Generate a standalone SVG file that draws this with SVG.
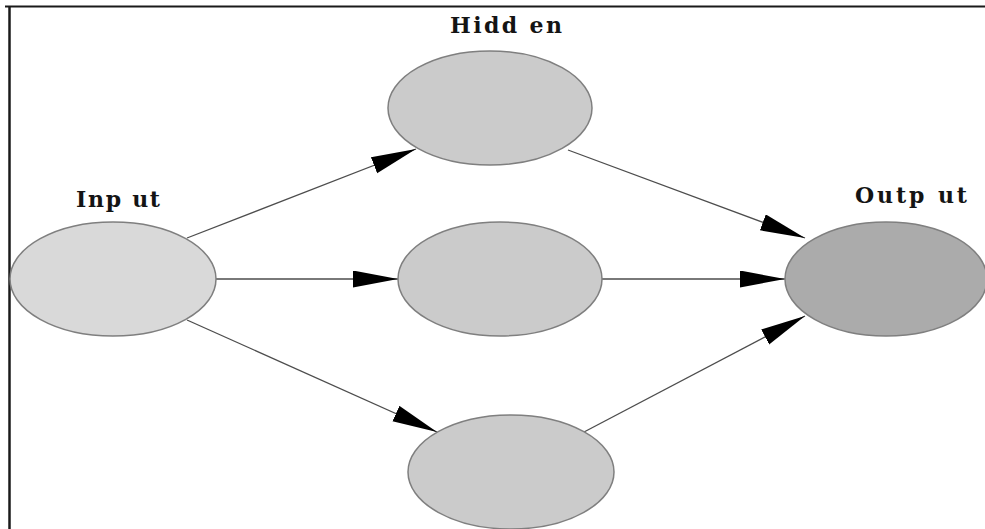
<svg xmlns="http://www.w3.org/2000/svg" width="985" height="529" viewBox="0 0 985 529">
  <style>
    .node { stroke: #7f7f7f; stroke-width: 1.5; }
    .in { fill: #d9d9d9; }
    .hid { fill: #cbcbcb; }
    .out { fill: #ababab; }
    .edge { stroke: #4d4d4d; stroke-width: 1.3; fill: none; marker-end: url(#arrow); }
    .label { font-family: "DejaVu Serif", "Liberation Serif", serif; font-weight: bold; font-size: 22px; fill: #141414; }
  </style>
  <defs>
    <marker id="arrow" markerUnits="userSpaceOnUse" markerWidth="46" markerHeight="18" refX="45" refY="8.5" orient="auto">
      <path d="M0,0 L45,8.5 L0,17 Z" fill="#000"/>
    </marker>
  </defs>

  <rect width="985" height="529" fill="#fff"/>

  <!-- frame -->
  <g id="frame" stroke="#1a1a1a" fill="none">
    <line x1="5" y1="6.5" x2="985" y2="6.5" stroke-width="2"/>
    <line x1="9.5" y1="6" x2="9.5" y2="529" stroke-width="2.5"/>
  </g>

  <!-- connectors -->
  <g id="edges">
    <line class="edge" x1="187" y1="238" x2="416" y2="149"/>
    <line class="edge" x1="216" y1="279" x2="398" y2="279"/>
    <line class="edge" x1="187" y1="320" x2="437" y2="432"/>
    <line class="edge" x1="568" y1="150" x2="805" y2="238"/>
    <line class="edge" x1="602" y1="279" x2="785" y2="279"/>
    <line class="edge" x1="584" y1="432" x2="805" y2="316"/>
  </g>

  <g id="input">
    <ellipse class="node in" cx="113" cy="279" rx="103" ry="57"/>
    <text class="label" x="76" y="207" textLength="84" lengthAdjust="spacing">Inp ut</text>
  </g>
  <g id="hidden-top">
    <ellipse class="node hid" cx="490" cy="108" rx="102" ry="57"/>
    <text class="label" x="450" y="33" textLength="112" lengthAdjust="spacing">Hidd en</text>
  </g>
  <g id="hidden-middle">
    <ellipse class="node hid" cx="500" cy="279" rx="102" ry="57"/>
  </g>
  <g id="hidden-bottom">
    <ellipse class="node hid" cx="511" cy="472" rx="103" ry="57"/>
  </g>
  <g id="output">
    <ellipse class="node out" cx="886" cy="279" rx="101" ry="57"/>
    <text class="label" x="855" y="203" textLength="112" lengthAdjust="spacing">Outp ut</text>
  </g>
</svg>
